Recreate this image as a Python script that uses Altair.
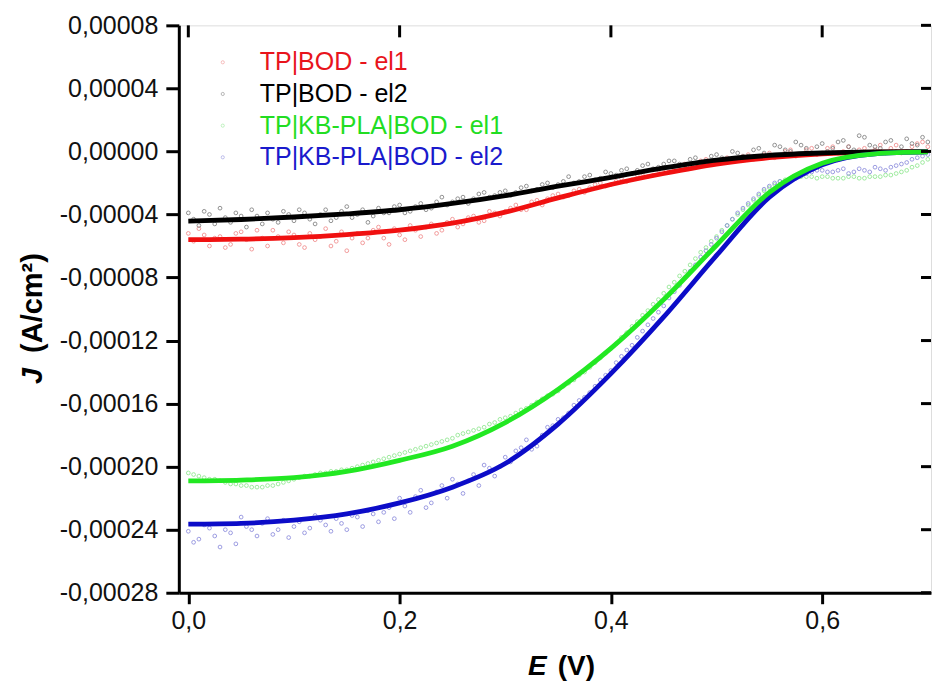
import altair as alt
import pandas as pd

# ---------------- data (J in units of 1e-5 A/cm2) ----------------
names = ["TP|BOD - el1", "TP|BOD - el2", "TP|KB-PLA|BOD - el1", "TP|KB-PLA|BOD - el2"]

E_scatter = [0.00, 0.01, 0.02, 0.03, 0.04, 0.05, 0.06, 0.07, 0.08, 0.09,
             0.10, 0.11, 0.12, 0.13, 0.14, 0.15, 0.16, 0.17, 0.18, 0.19,
             0.20, 0.21, 0.22, 0.23, 0.24, 0.25, 0.26, 0.27, 0.28, 0.29,
             0.30, 0.31, 0.32, 0.33, 0.34, 0.35, 0.36, 0.37, 0.38, 0.39,
             0.40, 0.41, 0.42, 0.43, 0.44, 0.45, 0.46, 0.47, 0.48, 0.49,
             0.50, 0.51, 0.52, 0.53, 0.54, 0.55, 0.56, 0.57, 0.58, 0.59,
             0.60, 0.61, 0.62, 0.63, 0.64, 0.65, 0.66, 0.67, 0.68, 0.69, 0.70]

E_scatter2 = [0.005, 0.015, 0.025, 0.035, 0.045, 0.055, 0.065, 0.075, 0.085, 0.095,
              0.105, 0.115, 0.125, 0.135, 0.145, 0.155, 0.165, 0.175, 0.185, 0.195,
              0.205, 0.215, 0.225, 0.235, 0.245, 0.255, 0.265, 0.275, 0.285, 0.295,
              0.305, 0.315, 0.325, 0.335, 0.345, 0.355, 0.365, 0.375, 0.385, 0.395,
              0.405, 0.415, 0.425, 0.435, 0.445, 0.455, 0.465, 0.475, 0.485, 0.495,
              0.505, 0.515, 0.525, 0.535, 0.545, 0.555, 0.565, 0.575, 0.585, 0.595,
              0.605, 0.615, 0.625, 0.635, 0.645, 0.655, 0.665, 0.675, 0.685, 0.695]

red_pts = [-5.2, -4.9, -6.0, -5.4, -5.9, -5.1, -6.2, -5.5, -5.0, -5.8,
           -5.3, -6.1, -5.6, -4.9, -5.7, -6.3, -5.2, -5.5, -4.8, -5.9,
           -5.3, -4.7, -5.4, -4.6, -5.0, -4.3, -4.6, -4.1, -4.4, -3.9,
           -3.8, -3.4, -3.7, -3.1, -3.0, -2.7, -2.8, -2.4, -2.3, -2.0,
           -2.1, -1.7, -1.8, -1.4, -1.5, -1.1, -1.2, -0.8, -0.9, -0.5,
           -0.7, -0.4, -0.5, -0.2, -0.4, -0.1, -0.3, 0.1, -0.2, 0.2,
           -0.1, 0.3, 0.0, -0.2, 0.2, 0.1, -0.1, 0.4, 0.0, 0.5, 0.3]
red_pts2 = [-5.7, -5.3, -5.5, -6.1, -5.2, -5.6, -5.0, -6.0, -5.4, -5.1,
            -5.9, -5.2, -5.4, -6.0, -5.1, -5.5, -5.8, -5.0, -5.5, -4.9,
            -5.6, -5.0, -4.8, -5.2, -4.5, -4.8, -4.2, -4.5, -3.8, -4.1,
            -3.6, -3.7, -3.2, -3.4, -2.8, -2.9, -2.5, -2.6, -2.1, -2.2,
            -1.9, -1.9, -1.5, -1.6, -1.2, -1.3, -0.9, -1.0, -0.6, -0.8,
            -0.5, -0.6, -0.3, -0.5, -0.2, -0.4, 0.0, -0.3, 0.1, -0.2,
            0.2, -0.1, 0.3, 0.1, -0.1, 0.4, 0.2, -0.1, 0.3, 0.6]

black_pts = [-3.9, -4.7, -4.0, -3.6, -4.5, -4.1, -3.7, -4.6, -4.3, -3.8,
             -4.4, -3.9, -4.6, -3.7, -4.2, -3.5, -4.0, -4.5, -3.6, -3.9,
             -3.4, -3.8, -3.3, -3.6, -2.9, -3.2, -2.9, -3.0, -2.6, -2.8,
             -2.5, -2.6, -2.2, -2.4, -2.0, -2.1, -1.6, -1.9, -1.5, -1.7,
             -1.4, -1.2, -1.4, -0.9, -1.1, -0.8, -0.6, -0.9, -0.4, -0.6,
             -0.2, -0.5, -0.1, -0.3, 0.2, -0.2, 0.3, 0.0, 0.4, -0.1,
             0.5, 0.2, 0.7, 0.1, 0.9, 0.3, 0.6, 0.0, 0.8, 0.4, 0.6]
black_pts2 = [-4.3, -3.8, -4.6, -4.2, -3.9, -4.8, -4.1, -3.9, -4.5, -4.0,
              -3.7, -4.3, -4.0, -4.4, -3.8, -4.2, -3.7, -4.1, -3.9, -3.5,
              -3.9, -3.5, -3.7, -3.2, -3.4, -3.0, -3.3, -2.7, -2.9, -2.6,
              -2.8, -2.3, -2.5, -2.1, -2.3, -1.9, -2.0, -1.6, -1.8, -1.3,
              -1.5, -1.1, -1.2, -0.8, -1.0, -0.6, -0.8, -0.5, -0.7, -0.3,
              -0.4, 0.0, -0.3, 0.1, -0.1, 0.4, 0.1, 0.6, 0.2, 0.3,
              0.0, 0.6, 0.3, 1.0, 0.4, 0.2, 0.7, 0.3, 0.5, 0.9]

green_pts = [-20.4, -20.6, -20.8, -20.9, -21.1, -21.2, -21.3, -21.3, -21.2, -21.0,
             -20.8, -20.6, -20.5, -20.4, -20.3, -20.2, -20.0, -19.8, -19.6, -19.4,
             -19.2, -19.0, -18.8, -18.6, -18.4, -18.2, -17.9, -17.7, -17.5, -17.2,
             -16.9, -16.6, -16.3, -15.9, -15.5, -15.2, -14.7, -14.2, -13.7, -13.1,
             -12.5, -11.8, -11.1, -10.4, -9.7, -9.0, -8.3, -7.6, -6.8, -6.1,
             -5.4, -4.7, -4.0, -3.4, -2.8, -2.3, -1.9, -1.7, -1.6, -1.6,
             -1.6, -1.7, -1.7, -1.6, -1.7, -1.6, -1.5, -1.4, -1.2, -0.9, -0.5]
green_pts2 = [-20.5, -20.7, -20.8, -21.0, -21.1, -21.2, -21.3, -21.2, -21.1, -20.9,
              -20.7, -20.6, -20.4, -20.3, -20.2, -20.1, -19.9, -19.7, -19.5, -19.3,
              -19.1, -18.9, -18.7, -18.5, -18.3, -18.0, -17.8, -17.6, -17.3, -17.0,
              -16.8, -16.4, -16.1, -15.7, -15.4, -14.9, -14.5, -14.0, -13.4, -12.8,
              -12.2, -11.5, -10.8, -10.1, -9.4, -8.6, -7.9, -7.2, -6.4, -5.7,
              -5.0, -4.3, -3.7, -3.1, -2.5, -2.1, -1.8, -1.6, -1.6, -1.7,
              -1.6, -1.7, -1.6, -1.7, -1.6, -1.6, -1.5, -1.3, -1.0, -0.7]

blue_pts = [-24.1, -24.6, -23.9, -25.1, -24.2, -23.2, -24.0, -23.6, -24.3, -23.4,
            -23.8, -24.2, -23.1, -23.7, -23.3, -24.0, -23.2, -22.8, -23.5, -22.6,
            -22.0, -22.9, -21.5, -22.3, -21.2, -20.8, -21.7, -20.5, -19.9, -20.6,
            -19.4, -19.0, -18.3, -18.7, -17.5, -17.0, -16.6, -15.8, -15.3, -14.5,
            -13.9, -13.0, -12.3, -11.4, -10.6, -9.8, -8.9, -8.0, -7.2, -6.3,
            -5.5, -4.7, -3.9, -3.3, -2.7, -2.2, -1.9, -1.8, -1.5, -1.3,
            -1.2, -1.3, -1.1, -1.3, -1.2, -1.0, -1.2, -0.9, -0.7, -0.4, -0.2]
blue_pts2 = [-24.8, -23.7, -24.4, -24.0, -24.9, -23.8, -24.4, -23.3, -24.0, -24.5,
             -23.5, -23.9, -23.4, -24.1, -23.6, -23.1, -23.8, -23.0, -22.9, -23.3,
             -22.5, -21.9, -22.6, -21.6, -22.0, -21.1, -20.9, -21.2, -20.1, -20.0,
             -19.7, -18.8, -18.9, -18.0, -17.4, -16.9, -16.1, -15.6, -14.9, -14.2,
             -13.4, -12.6, -11.8, -11.0, -10.2, -9.3, -8.5, -7.6, -6.7, -5.9,
             -5.1, -4.3, -3.6, -3.0, -2.4, -2.0, -1.9, -1.7, -1.4, -1.2,
             -1.3, -1.2, -1.4, -1.1, -1.3, -1.1, -1.0, -0.8, -0.5, -0.3]

E_fit = [0.00, 0.05, 0.10, 0.15, 0.20, 0.25, 0.30, 0.35, 0.40, 0.45, 0.50, 0.55, 0.60, 0.65, 0.70]
red_fit = [-5.60, -5.57, -5.47, -5.28, -5.00, -4.55, -3.85, -2.95, -2.10, -1.40, -0.80, -0.40, -0.15, -0.04, -0.01]
black_fit = [-4.42, -4.32, -4.16, -3.96, -3.70, -3.30, -2.80, -2.20, -1.65, -1.05, -0.55, -0.25, -0.10, -0.03, -0.01]
green_fit = [-20.9, -20.85, -20.7, -20.3, -19.6, -18.7, -17.2, -15.1, -12.5, -9.4, -5.95, -2.6, -0.75, -0.15, -0.03]
blue_fit = [-23.65, -23.6, -23.4, -23.0, -22.3, -21.3, -19.8, -17.3, -14.1, -10.5, -6.6, -2.9, -0.85, -0.15, -0.03]

x_ticks = [0.0, 0.2, 0.4, 0.6]
y_ticks = [0.00008, 0.00004, 0.0, -0.00004, -0.00008, -0.00012, -0.00016, -0.00020, -0.00024, -0.00028]

# ---------------- styling ----------------
FONT = "Liberation Sans"
W, H = 753, 568
line_colors = ["#f01010", "#000000", "#22e822", "#0c0cc8"]
pt_colors = ["#f08c8c", "#808080", "#90e890", "#8c8cdc"]
legend_text_colors = ["#e8141c", "#000000", "#22dd22", "#1a1acc"]

pts_series = [(red_pts, red_pts2), (black_pts, black_pts2),
              (green_pts, green_pts2), (blue_pts, blue_pts2)]
fit_series = [red_fit, black_fit, green_fit, blue_fit]

xs = alt.Scale(domain=[-0.009, 0.703], nice=False, zero=False)
ys = alt.Scale(domain=[-0.00028, 0.00008], nice=False, zero=False)

x_axis = alt.Axis(values=x_ticks, grid=False, title=None,
                  labelExpr="replace(format(datum.value, '.1f'), '.', ',')",
                  labelFont=FONT, labelFontSize=25, labelColor="#111",
                  labelPadding=5, tickSize=11, tickWidth=3, tickColor="black",
                  domainColor="black", domainWidth=3)
y_axis = alt.Axis(values=y_ticks, grid=False, title=None,
                  labelExpr="(datum.value < -1e-9 ? '-' : '') + replace(format(abs(datum.value), '.5f'), '.', ',')",
                  labelFont=FONT, labelFontSize=25, labelColor="#111",
                  labelPadding=8, tickSize=13, tickWidth=3, tickColor="black",
                  domainColor="black", domainWidth=3)

X = alt.X("E:Q", scale=xs, axis=x_axis)
Y = alt.Y("J:Q", scale=ys, axis=y_axis)

layers = []

# scatter (measured points)
for name, (v1, v2), col in zip(names, pts_series, pt_colors):
    df = pd.DataFrame({"E": E_scatter + E_scatter2,
                       "J": [v * 1e-5 for v in v1 + v2]})
    layers.append(
        alt.Chart(df).mark_point(shape="circle", filled=False, size=14,
                                 strokeWidth=0.9, color=col, opacity=0.95)
        .encode(x=X, y=Y)
    )

# fitted curves (order: red, black, blue, green)
for idx in [0, 1, 3, 2]:
    df = pd.DataFrame({"E": E_fit, "J": [v * 1e-5 for v in fit_series[idx]]})
    layers.append(
        alt.Chart(df).mark_line(color=line_colors[idx], strokeWidth=4.8,
                                interpolate="monotone")
        .encode(x=X, y=Y)
    )

# mirrored inward ticks on top and right
layers.append(
    alt.Chart(pd.DataFrame({"E": x_ticks})).mark_rule(color="black", strokeWidth=3)
    .encode(x=X, y=alt.value(0), y2=alt.value(12))
)
layers.append(
    alt.Chart(pd.DataFrame({"J": y_ticks})).mark_rule(color="black", strokeWidth=3)
    .encode(y=Y, x=alt.value(W - 10), x2=alt.value(W))
)

# legend (manual)
one = pd.DataFrame({"a": [0]})
for i, (name, pc, tc) in enumerate(zip(names, pt_colors, legend_text_colors)):
    yy = 37 + i * 31.7
    layers.append(
        alt.Chart(one).mark_point(shape="circle", filled=False, size=10,
                                  strokeWidth=0.8, color=pc)
        .encode(x=alt.value(44), y=alt.value(yy))
    )
    layers.append(
        alt.Chart(one).mark_text(text=name, font=FONT, fontSize=25, color=tc,
                                 align="left", baseline="middle")
        .encode(x=alt.value(81), y=alt.value(yy))
    )

# axis titles with italic symbols
layers.append(
    alt.Chart(one).mark_text(text="J", font=FONT, fontSize=29, fontWeight="bold",
                             fontStyle="italic", angle=270, align="center",
                             baseline="middle", color="black")
    .encode(x=alt.value(-146), y=alt.value(351))
)
layers.append(
    alt.Chart(one).mark_text(text="(A/cm²)", font=FONT, fontSize=29, fontWeight="bold",
                             angle=270, align="center", baseline="middle", color="black")
    .encode(x=alt.value(-146), y=alt.value(278))
)
layers.append(
    alt.Chart(one).mark_text(text="E", font=FONT, fontSize=28, fontWeight="bold",
                             fontStyle="italic", align="center", baseline="middle",
                             color="black")
    .encode(x=alt.value(359), y=alt.value(642))
)
layers.append(
    alt.Chart(one).mark_text(text="(V)", font=FONT, fontSize=28, fontWeight="bold",
                             align="center", baseline="middle", color="black")
    .encode(x=alt.value(398), y=alt.value(642))
)

chart = (
    alt.layer(*layers)
    .properties(width=W, height=H,
                autosize=alt.AutoSizeParams(type="none"),
                padding={"left": 171, "top": 17, "right": 1, "bottom": 93})
    .configure_view(stroke="black", strokeWidth=3)
    .configure(background="white")
)

chart.save("out.html", embed_options={"renderer": "svg", "actions": False})
